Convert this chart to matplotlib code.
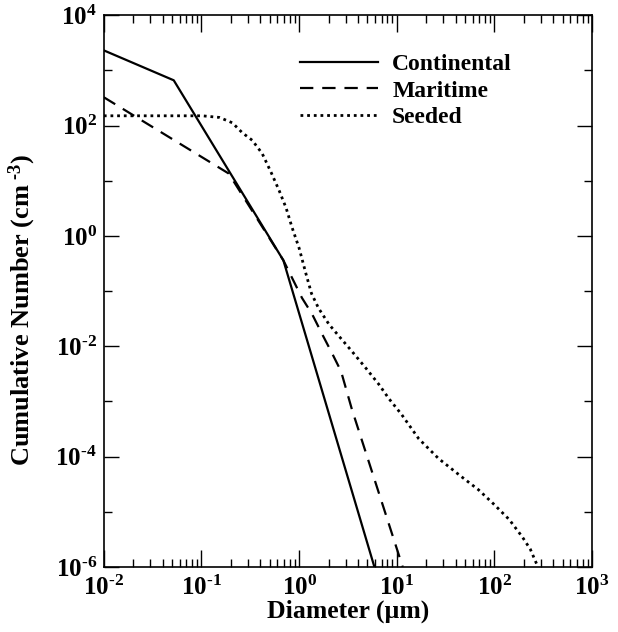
import matplotlib
matplotlib.use('Agg')
import numpy as np
from matplotlib import pyplot as plt
from matplotlib.ticker import LogLocator, FuncFormatter, NullFormatter

# Шрифты: жирный Times-подобный
plt.rcParams['font.family'] = ['Liberation Serif', 'DejaVu Serif']
plt.rcParams['font.weight'] = 'bold'
plt.rcParams['mathtext.fontset'] = 'custom'
plt.rcParams['mathtext.rm'] = 'Liberation Serif:bold'
plt.rcParams['mathtext.it'] = 'Liberation Serif:bold:italic'
plt.rcParams['mathtext.bf'] = 'Liberation Serif:bold'
plt.rcParams['mathtext.default'] = 'rm'

# Данные (диаметр в мкм, концентрация в см^-3)
cont_d = [0.01, 0.052, 0.69, 5.9]
cont_n = [2300, 660, 0.36, 1e-6]

mar_d = [0.01, 0.19, 0.69, 1.07, 1.36, 1.72, 2.17, 2.69, 3.47, 11.5]
mar_n = [325, 13.5, 0.36, 0.075, 0.038, 0.0166, 0.0075, 0.0035, 7.2e-4, 1e-6]

seed_d = [0.01, 0.102, 0.153, 0.207, 0.262, 0.331, 0.419, 0.518, 0.625, 0.736,
          0.849, 1.0, 1.18, 1.34, 1.58, 2.02, 2.56, 3.47, 4.83, 6.55, 8.28,
          11.2, 16.8, 26.8, 46.1, 68.7, 100, 142, 193, 233, 268, 281]
seed_n = [150, 150, 140, 112, 74, 54, 31, 14, 6.6, 3.2, 1.4, 0.6, 0.2, 0.09,
          0.049, 0.025, 0.0152, 0.0081, 0.0040, 0.00204, 0.00113, 5.8e-4,
          2.1e-4, 9.2e-5, 4.3e-5, 2.5e-5, 1.34e-5, 7.2e-6, 3.5e-6, 2.1e-6,
          1.18e-6, 1e-6]


def pow10(v, pos):
    # подпись вида 10^n с коротким дефисом
    e = int(round(np.log10(v)))
    if e < 0:
        return r'$10^{\text{-}%d}$' % (-e)
    return r'$10^{%d}$' % e


fig = plt.figure(figsize=(6.18, 6.32), dpi=100)
ax = fig.add_axes([0.168, 0.103, 0.790, 0.873])

ax.plot(cont_d, cont_n, color='k', lw=1.6, label='Continental')
ax.plot(mar_d, mar_n, color='k', lw=1.6, linestyle=(0, (6, 4)), label='Maritime')
ax.plot(seed_d, seed_n, color='k', lw=2.0, linestyle=(0, (1, 1.4)), label='Seeded')

ax.set_xscale('log')
ax.set_yscale('log')
ax.set_xlim(1e-2, 1e3)
ax.set_ylim(1e-6, 1e4)

ax.xaxis.set_major_locator(LogLocator(base=10, numticks=20))
ax.xaxis.set_minor_locator(LogLocator(base=10, subs=np.arange(2, 10), numticks=20))
ax.yaxis.set_major_locator(LogLocator(base=100, numticks=20))
ax.yaxis.set_minor_locator(LogLocator(base=100, subs=[10], numticks=20))
ax.xaxis.set_major_formatter(FuncFormatter(pow10))
ax.yaxis.set_major_formatter(FuncFormatter(pow10))
ax.xaxis.set_minor_formatter(NullFormatter())
ax.yaxis.set_minor_formatter(NullFormatter())

ax.tick_params(which='both', direction='in', top=True, right=True, width=1.0,
               labelsize=18)
ax.tick_params(axis='x', which='major', length=12, pad=6)
ax.tick_params(axis='x', which='minor', length=6)
ax.tick_params(axis='y', which='major', length=11, pad=5)
ax.tick_params(axis='y', which='minor', length=6)
for s in ax.spines.values():
    s.set_linewidth(1.2)

ax.set_xlabel('Diameter (\u00b5m)', fontsize=18.5, fontweight='bold', labelpad=0)
ax.set_ylabel(r'Cumulative Number (cm$^{\ \text{-}3}$)', fontsize=19, fontweight='bold')
ax.yaxis.set_label_coords(-0.135, 0.466)

ax.legend(loc='upper left', bbox_to_anchor=(0.402, 0.93), frameon=False,
          fontsize=17, handlelength=3.3, handletextpad=0.6, borderpad=0,
          borderaxespad=0, labelspacing=0.2)

plt.savefig('out.png', dpi=100)
